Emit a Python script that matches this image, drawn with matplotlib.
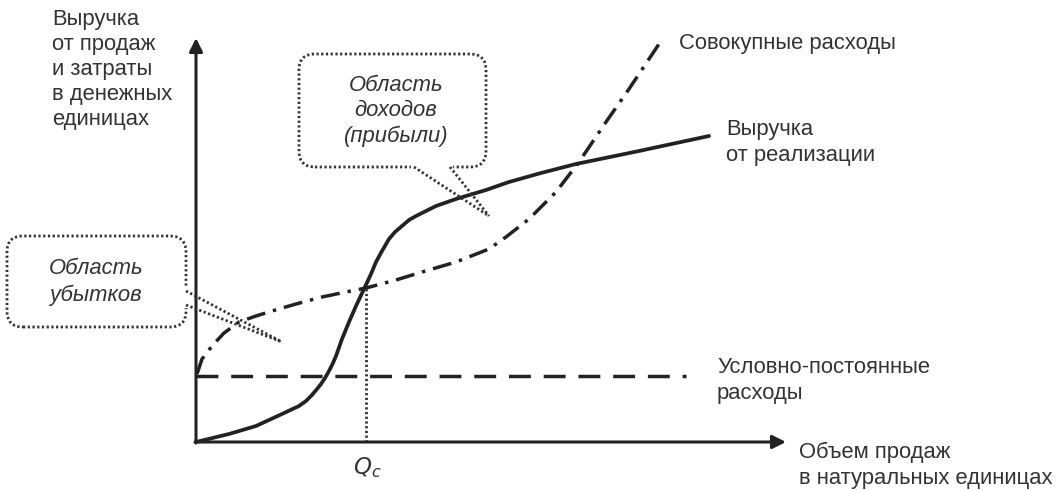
import matplotlib
matplotlib.use('Agg')
import matplotlib.pyplot as plt
from matplotlib.patches import FancyBboxPatch

plt.rcParams['font.family'] = ['Liberation Sans', 'DejaVu Sans']

# curve points (units: pixels from the origin, y up)
revenue_x = [0, 33, 60, 86, 103, 110, 116, 121, 125, 129, 133, 137, 140, 146, 153, 160, 168, 175, 180, 186, 193, 199,
             206, 213, 220, 240, 260, 290, 313, 345, 380, 443, 513]
revenue_y = [0, 8, 16, 28, 36, 41, 47, 53, 58, 64, 71, 79, 86, 103, 120, 136, 153, 168, 180, 191, 203, 210,
             216, 222, 226, 236, 243, 252, 260, 269, 278, 291, 306]

cost_x = [1, 6, 16, 28, 43, 60, 76, 100, 126, 150, 170, 200, 226, 260, 293, 310, 333, 360, 383, 410, 433, 463]
cost_y = [68, 83, 96, 109, 120, 126, 131, 138, 145, 150, 154, 162, 170, 180, 193, 205, 223, 250, 280, 320, 353, 398]

fixed_x = [0, 490]
fixed_y = [66, 66]

qc_x = 170
qc_y = 154

ink = '#222222'
txt = '#333333'
dot = '#333333'
fs = 15.8

fig = plt.figure(figsize=(10.64, 4.9), dpi=100)
ax = fig.add_axes([0, 0, 1, 1])
ax.set_xlim(-196, 868)
ax.set_ylim(-48, 442)
ax.axis('off')

# axes with arrows
ax.annotate('', xy=(0, 404), xytext=(0, -1),
            arrowprops=dict(arrowstyle='-|>', lw=2.2, color=ink, mutation_scale=20, shrinkA=0, shrinkB=0))
ax.annotate('', xy=(590, 0), xytext=(-1, 0),
            arrowprops=dict(arrowstyle='-|>', lw=2.2, color=ink, mutation_scale=20, shrinkA=0, shrinkB=0))

ax.plot(fixed_x, fixed_y, color=ink, lw=2.5, linestyle=(0, (6.3, 3.7)))
ax.plot(cost_x, cost_y, color=ink, lw=2.5, linestyle=(0, (5.5, 2.3, 1, 2.3)))
ax.plot(revenue_x, revenue_y, color=ink, lw=2.7, solid_capstyle='round', solid_joinstyle='round')
ax.plot([qc_x, qc_x], [0, qc_y], color=dot, lw=2, linestyle=(0, (0.8, 0.9)))

# callouts
def callout(x0, y0, w, h, base1, base2, tip):
    box = FancyBboxPatch((x0, y0), w, h, boxstyle='round,pad=0,rounding_size=16',
                         fill=False, ec=dot, lw=2, linestyle=(0, (0.8, 0.9)))
    ax.add_patch(box)
    ax.plot([base1[0], base2[0]], [base1[1], base2[1]], color='white', lw=4.5, zorder=3)
    for b in (base1, base2):
        ax.plot([b[0], tip[0]], [b[1], tip[1]], color=dot, lw=2, linestyle=(0, (0.8, 0.9)), zorder=4)

callout(-189, 115, 179, 91, (-10, 151), (-10, 137), (86, 100))
callout(103, 275, 187, 113, (218, 275), (254, 275), (293, 226))

ax.text(-100, 160, 'Область\nубытков', ha='center', va='center', fontsize=fs,
        style='italic', color=txt, linespacing=1.3)
ax.text(200, 331, 'Область\nдоходов\n(прибыли)', ha='center', va='center', fontsize=fs,
        style='italic', color=txt, linespacing=1.3)

ax.text(-144, 433, 'Выручка\nот продаж\nи затраты\nв денежных\nединицах', ha='left', va='top',
        fontsize=fs, color=txt, linespacing=1.25)
ax.text(483, 398, 'Совокупные расходы', ha='left', va='center', fontsize=fs, color=txt)
ax.text(530, 323, 'Выручка\nот реализации', ha='left', va='top', fontsize=fs, color=txt, linespacing=1.3)
ax.text(521, 85, 'Условно-постоянные\nрасходы', ha='left', va='top', fontsize=fs, color=txt, linespacing=1.3)
ax.text(603, 0, 'Объем продаж\nв натуральных единицах', ha='left', va='top', fontsize=fs,
        color=txt, linespacing=1.3)
ax.text(171, -13, r'$Q_c$', ha='center', va='top', fontsize=16.5, color=txt,
        math_fontfamily='dejavusans')

fig.savefig('out.png', dpi=100)
